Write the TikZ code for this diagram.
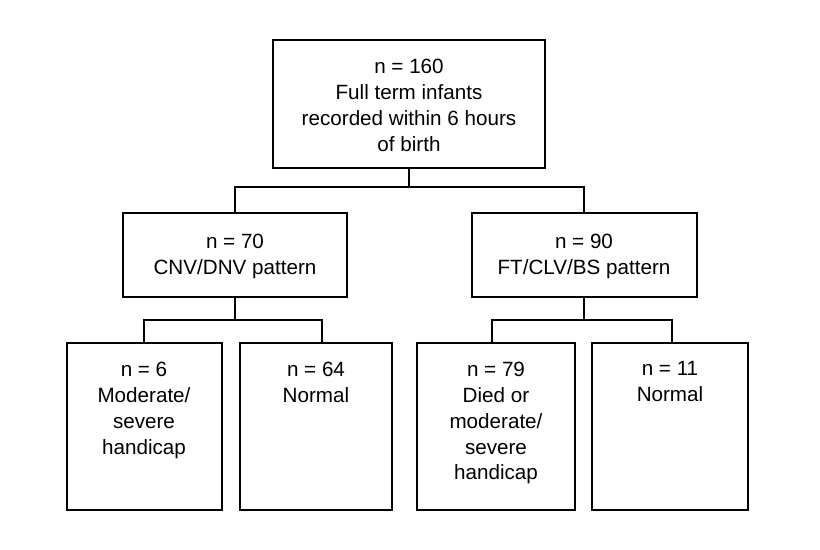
\documentclass[tikz,border=0pt]{standalone}
\usepackage{fontspec}
\setmainfont{Liberation Sans}
\begin{document}
\begin{tikzpicture}[x=0.0264cm, y=-0.0264cm,
  box/.style = {draw, line width=0.9pt, minimum width=#1},
  txt/.style = {align=center, font=\fontsize{15.5}{19.5}\selectfont},
  tree/.style = {line width=0.9pt}]
  \useasboundingbox (0,0) rectangle (820,550);
  % boxes
  \draw[tree] (273,40) rectangle (545,168);
  \draw[tree] (123,213) rectangle (347,297);
  \draw[tree] (472,213) rectangle (697,297);
  \draw[tree] (67,343) rectangle (222,510);
  \draw[tree] (240,343) rectangle (392,510);
  \draw[tree] (417,343) rectangle (575,510);
  \draw[tree] (592,343) rectangle (748,510);
  % texts
  \node[txt] (top) at (409,105) {n = 160\\Full term infants\\recorded within 6 hours\\of birth};
  \node[txt] (cnv) at (235,256) {n = 70\\CNV/DNV pattern};
  \node[txt] (ft) at (584,256) {n = 90\\FT/CLV/BS pattern};
  \node[txt, anchor=north] (mod) at (144,357) {n = 6\\Moderate/\\severe\\handicap};
  \node[txt, anchor=north] (norma) at (316,357) {n = 64\\Normal};
  \node[txt, anchor=north] (died) at (496,357) {n = 79\\Died or\\moderate/\\severe\\handicap};
  \node[txt, anchor=north] (normb) at (670,357) {n = 11\\Normal};
  % connectors
  \coordinate (t0) at (409,168);
  \coordinate (t1) at (409,187);
  \coordinate (l1) at (235,187);
  \coordinate (r1) at (584,187);
  \coordinate (l2) at (235,213);
  \coordinate (r2) at (584,213);
  \draw[tree] (t0) -- (t1);
  \draw[tree] (l2) -- (l1) -- (r1) -- (r2);
  \coordinate (a0) at (235,297);
  \coordinate (a1) at (235,320);
  \coordinate (a2) at (144,320);
  \coordinate (a3) at (322,320);
  \coordinate (a4) at (144,343);
  \coordinate (a5) at (322,343);
  \draw[tree] (a0) -- (a1);
  \draw[tree] (a4) -- (a2) -- (a3) -- (a5);
  \coordinate (b0) at (584,297);
  \coordinate (b1) at (584,320);
  \coordinate (b2) at (492,320);
  \coordinate (b3) at (672,320);
  \coordinate (b4) at (492,343);
  \coordinate (b5) at (672,343);
  \draw[tree] (b0) -- (b1);
  \draw[tree] (b4) -- (b2) -- (b3) -- (b5);
\end{tikzpicture}
\end{document}
